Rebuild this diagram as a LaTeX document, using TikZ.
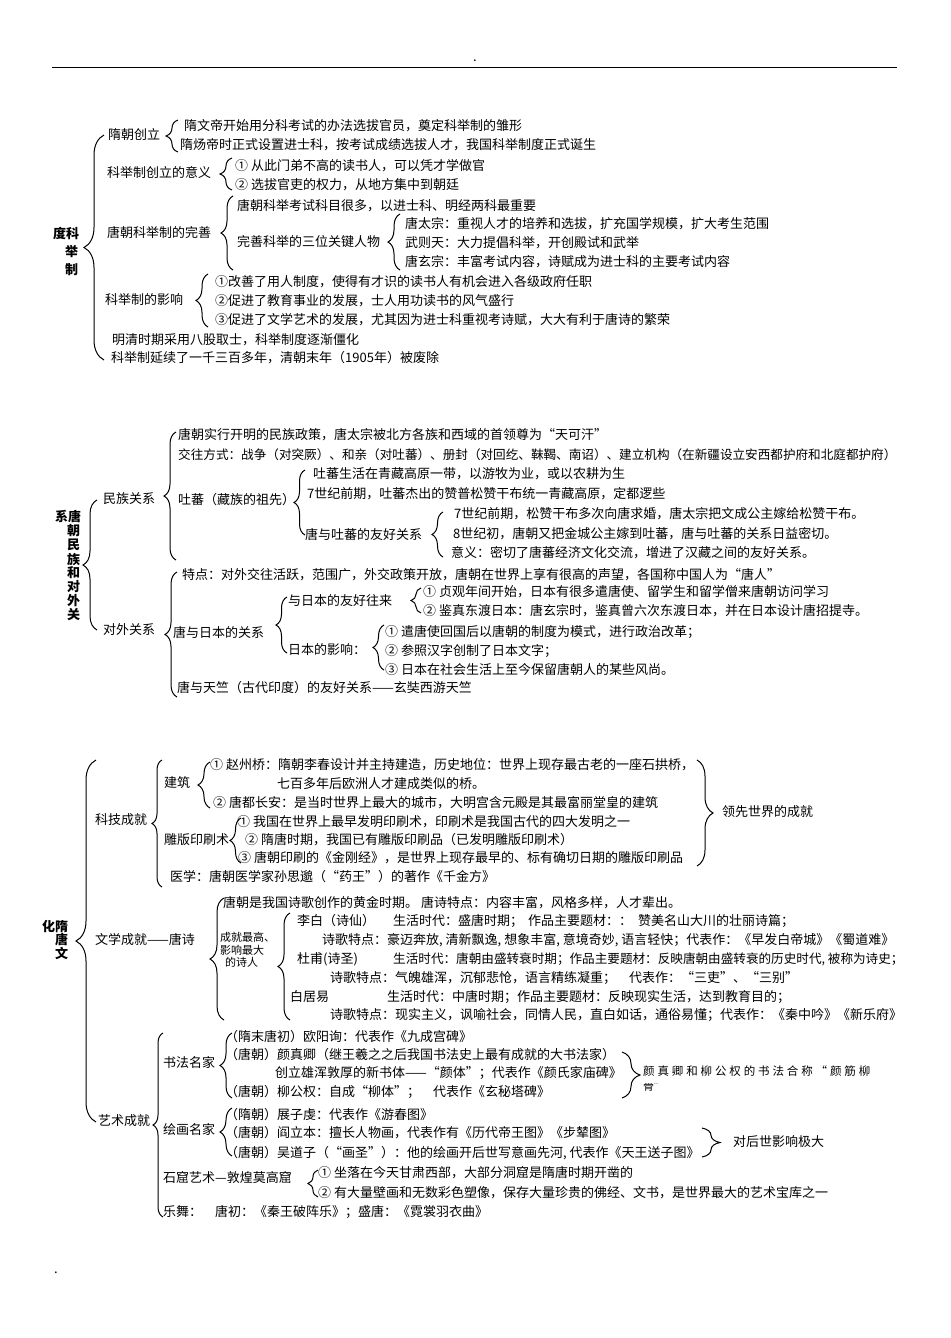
\documentclass[tikz,border=0pt]{standalone}
\usepackage{fontspec}
\setmainfont{Noto Sans CJK SC}
\usetikzlibrary{decorations.pathreplacing}

\tikzset{
  txt/.style={anchor=west, inner sep=0pt, font=\fontsize{13}{15}\selectfont},
  sml/.style={anchor=west, inner sep=0pt, font=\fontsize{11}{12.5}\selectfont},
  ttl/.style={anchor=west, inner sep=0pt, font=\fontsize{13}{15}\selectfont\bfseries},
  brc/.style={decorate, decoration={brace, amplitude=#1}, line width=1pt},
}

% braces: x of the ends, top y, bottom y, amplitude
\newcommand\lbrc[4]{\draw[brc=#4] (#1,#3) -- (#1,#2);}
\newcommand\rbrc[4]{\draw[brc=#4] (#1,#2) -- (#1,#3);}

\begin{document}
\begin{tikzpicture}[x=1pt, y=-1pt]
\useasboundingbox (0,0) rectangle (950,1338);

% page rule and dots
\draw[line width=0.8pt] (52,67) -- (897,67);
\node[txt] (dot1) at (473,61) {.};
\node[txt] (dot2) at (54,1273) {.};

%% ---------------- 科举制 ----------------
\node[ttl] (t1a) at (53,233) {度科};
\node[ttl] (t1b) at (65,252) {举};
\node[ttl] (t1c) at (65,270) {制};
\lbrc{104}{135}{360}{20pt}

\node[txt] (sc) at (108,135) {隋朝创立};
\lbrc{178}{120}{152}{12pt}
\node[txt] (sc1) at (184,126) {隋文帝开始用分科考试的办法选拔官员，奠定科举制的雏形};
\node[txt] (sc2) at (180,145) {隋炀帝时正式设置进士科，按考试成绩选拔人才，我国科举制度正式诞生};

\node[txt] (yy) at (107,173) {科举制创立的意义};
\lbrc{232}{158}{190}{12pt}
\node[txt] (yy1) at (235,166) {① 从此门弟不高的读书人，可以凭才学做官};
\node[txt] (yy2) at (235,185) {② 选拔官吏的权力，从地方集中到朝廷};

\node[txt] (ws) at (107,232) {唐朝科举制的完善};
\lbrc{233}{196}{270}{12pt}
\node[txt] (ws1) at (237,206) {唐朝科举考试科目很多，以进士科、明经两科最重要};
\node[txt] (ws2) at (237,242) {完善科举的三位关键人物};
\lbrc{400}{214}{270}{12pt}
\node[txt] (rw1) at (405,224) {唐太宗：重视人才的培养和选拔，扩充国学规模，扩大考生范围};
\node[txt] (rw2) at (405,243) {武则天：大力提倡科举，开创殿试和武举};
\node[txt] (rw3) at (405,262) {唐玄宗：丰富考试内容，诗赋成为进士科的主要考试内容};

\node[txt] (yx) at (105,300) {科举制的影响};
\lbrc{208}{274}{327}{12pt}
\node[txt] (yx1) at (215,282) {①改善了用人制度，使得有才识的读书人有机会进入各级政府任职};
\node[txt] (yx2) at (215,301) {②促进了教育事业的发展，士人用功读书的风气盛行};
\node[txt] (yx3) at (215,320) {③促进了文学艺术的发展，尤其因为进士科重视考诗赋，大大有利于唐诗的繁荣};

\node[txt] (mq) at (112,340) {明清时期采用八股取士，科举制度逐渐僵化};
\node[txt] (fc) at (111,358) {科举制延续了一千三百多年，清朝末年（1905年）被废除};

%% ---------------- 唐朝民族和对外关系 ----------------
\node[ttl] (t2a) at (55,517) {系唐};
\foreach \ch [count=\i] in {朝,民,族,和,对,外,关}
  \node[ttl] (t2\i) at (67,517+14*\i) {\ch};
\lbrc{97}{500}{630}{14pt}

\node[txt] (mz) at (103,499) {民族关系};
\lbrc{176}{432}{560}{12pt}
\node[txt] (mz1) at (178,435) {唐朝实行开明的民族政策，唐太宗被北方各族和西域的首领尊为“天可汗”};
\node[txt, font=\fontsize{12.6}{15}\selectfont] (mz2) at (178,455) {交往方式：战争（对突厥）、和亲（对吐蕃）、册封（对回纥、靺鞨、南诏）、建立机构（在新疆设立安西都护府和北庭都护府）};
\node[txt] (tb) at (178,500) {吐蕃（藏族的祖先）};
\lbrc{305}{470}{535}{11pt}
\node[txt] (tb1) at (313,474) {吐蕃生活在青藏高原一带，以游牧为业，或以农耕为生};
\node[txt] (tb2) at (307,494) {7世纪前期，吐蕃杰出的赞普松赞干布统一青藏高原，定都逻些};
\node[txt] (hh) at (305,534) {唐与吐蕃的友好关系};
\lbrc{443}{512}{557}{11pt}
\node[txt] (hh1) at (454,514) {7世纪前期，松赞干布多次向唐求婚，唐太宗把文成公主嫁给松赞干布。};
\node[txt] (hh2) at (453,534) {8世纪初，唐朝又把金城公主嫁到吐蕃，唐与吐蕃的关系日益密切。};
\node[txt] (hh3) at (451,553) {意义：密切了唐蕃经济文化交流，增进了汉藏之间的友好关系。};

\node[txt] (dw) at (103,630) {对外关系};
\lbrc{177}{572}{697}{12pt}
\node[txt] (dw1) at (182,575) {特点：对外交往活跃，范围广，外交政策开放，唐朝在世界上享有很高的声望，各国称中国人为“唐人”};
\node[txt] (rb) at (173,632) {唐与日本的关系};
\lbrc{287}{597}{653}{11pt}
\node[txt] (rb1) at (288,601) {与日本的友好往来};
\lbrc{421}{588}{613}{10pt}
\node[txt] (rb11) at (423,592) {① 贞观年间开始，日本有很多遣唐使、留学生和留学僧来唐朝访问学习};
\node[txt] (rb12) at (423,611) {② 鉴真东渡日本：唐玄宗时，鉴真曾六次东渡日本，并在日本设计唐招提寺。};
\node[txt] (rb2) at (288,650) {日本的影响：};
\lbrc{384}{625}{670}{11pt}
\node[txt] (rb21) at (385,632) {① 遣唐使回国后以唐朝的制度为模式，进行政治改革；};
\node[txt] (rb22) at (385,651) {② 参照汉字创制了日本文字；};
\node[txt] (rb23) at (385,670) {③ 日本在社会生活上至今保留唐朝人的某些风尚。};
\node[txt] (tz) at (177,688) {唐与天竺（古代印度）的友好关系——玄奘西游天竺};

%% ---------------- 隋唐文化 ----------------
\node[ttl] (t3a) at (42,927) {化隋};
\node[ttl] (t3b) at (55,940) {唐};
\node[ttl] (t3c) at (55,953) {文};
\lbrc{96}{760}{1122}{20pt}

% 科技成就
\node[txt] (kj) at (95,820) {科技成就};
\lbrc{162}{760}{887}{10pt}
\node[txt] (jz) at (164,783) {建筑};
\lbrc{210}{762}{808}{12pt}
\node[txt] (jz1) at (210,765) {① 赵州桥：隋朝李春设计并主持建造，历史地位：世界上现存最古老的一座石拱桥，};
\node[txt] (jz2) at (277,784) {七百多年后欧洲人才建成类似的桥。};
\node[txt] (jz3) at (213,803) {② 唐都长安：是当时世界上最大的城市，大明宫含元殿是其最富丽堂皇的建筑};
\node[txt] (ys) at (164,840) {雕版印刷术};
\lbrc{241}{818}{863}{11pt}
\node[txt] (ys1) at (237,822) {① 我国在世界上最早发明印刷术，印刷术是我国古代的四大发明之一};
\node[txt] (ys2) at (245,840) {② 隋唐时期，我国已有雕版印刷品（已发明雕版印刷术）};
\node[txt] (ys3) at (238,858) {③ 唐朝印刷的《金刚经》，是世界上现存最早的、标有确切日期的雕版印刷品};
\node[txt] (yx0) at (170,877) {医学：唐朝医学家孙思邈（“药王”）的著作《千金方》};
\rbrc{697}{760}{866}{16pt}
\node[txt] (lx) at (722,812) {领先世界的成就};

% 文学成就
\node[txt] (wx) at (95,940) {文学成就——唐诗};
\lbrc{224}{898}{1020}{14pt}
\node[txt] (wx1) at (223,903) {唐朝是我国诗歌创作的黄金时期。\ 唐诗特点：内容丰富，风格多样，人才辈出。};
\node[sml] (sr1) at (220,937) {成就最高、};
\node[sml] (sr2) at (220,950) {影响最大};
\node[sml] (sr3) at (225,962) {的诗人};
\lbrc{290}{913}{1020}{12pt}
\node[txt] (lb) at (297,921) {李白（诗仙）};
\node[txt] (lb1) at (393,921) {生活时代：盛唐时期；};
\node[txt] (lb2) at (528,921) {作品主要题材：：\hspace{6pt}赞美名山大川的壮丽诗篇；};
\node[txt] (lb3) at (322,940) {诗歌特点：豪迈奔放, 清新飘逸, 想象丰富, 意境奇妙, 语言轻快；代表作：《早发白帝城》《蜀道难》};
\node[txt] (df) at (297,959) {杜甫(诗圣)};
\node[txt, font=\fontsize{12.6}{15}\selectfont] (df1) at (393,959) {生活时代：唐朝由盛转衰时期；作品主要题材：反映唐朝由盛转衰的历史时代, 被称为诗史；};
\node[txt] (df2) at (330,978) {诗歌特点：气魄雄浑，沉郁悲怆，语言精练凝重；\quad 代表作：“三吏”、“三别”};
\node[txt] (bj) at (290,997) {白居易};
\node[txt] (bj1) at (387,997) {生活时代：中唐时期；作品主要题材：反映现实生活，达到教育目的；};
\node[txt] (bj2) at (330,1015) {诗歌特点：现实主义，讽喻社会，同情人民，直白如话，通俗易懂；代表作：《秦中吟》《新乐府》};

% 艺术成就
\node[txt] (ys0) at (98,1121) {艺术成就};
\lbrc{163}{1033}{1217}{10pt}
\node[txt] (sf) at (163,1062) {书法名家};
\lbrc{232}{1033}{1098}{12pt}
\node[txt] (sf1) at (225,1037) {（隋末唐初）欧阳询：代表作《九成宫碑》};
\node[txt] (sf2) at (225,1055) {（唐朝）颜真卿（继王羲之之后我国书法史上最有成就的大书法家）};
\node[txt] (sf3) at (275,1073) {创立雄浑敦厚的新书体——“颜体”；代表作《颜氏家庙碑》};
\node[txt] (sf4) at (225,1092) {（唐朝）柳公权：自成“柳体”；\quad 代表作《玄秘塔碑》};
\rbrc{622}{1052}{1098}{18pt}
\node[sml, font=\fontsize{11.5}{13}\selectfont\addfontfeature{LetterSpace=25}] (yj) at (643,1071) {颜真卿和柳公权的书法合称“颜筋柳};
\begin{scope}
  \clip (640,1083) rectangle (690,1090);
  \node[sml] (yj2) at (643,1086) {骨”};
\end{scope}

\node[txt] (hh0) at (163,1130) {绘画名家};
\lbrc{232}{1108}{1156}{12pt}
\node[txt] (hh01) at (225,1115) {（隋朝）展子虔：代表作《游春图》};
\node[txt] (hh02) at (225,1133) {（唐朝）阎立本：擅长人物画，代表作有《历代帝王图》《步辇图》};
\node[txt] (hh03) at (225,1153) {（唐朝）吴道子（“画圣”）：他的绘画开后世写意画先河, 代表作《天王送子图》};
\rbrc{702}{1128}{1157}{18pt}
\node[txt] (dh) at (733,1142) {对后世影响极大};

\node[txt] (sk) at (163,1178) {石窟艺术—敦煌莫高窟};
\lbrc{318}{1170}{1197}{10pt}
\node[txt] (sk1) at (318,1173) {① 坐落在今天甘肃西部，大部分洞窟是隋唐时期开凿的};
\node[txt] (sk2) at (318,1193) {② 有大量壁画和无数彩色塑像，保存大量珍贵的佛经、文书，是世界最大的艺术宝库之一};
\node[txt] (yw) at (163,1212) {乐舞：\quad 唐初：《秦王破阵乐》；盛唐：《霓裳羽衣曲》};

\end{tikzpicture}
\end{document}
